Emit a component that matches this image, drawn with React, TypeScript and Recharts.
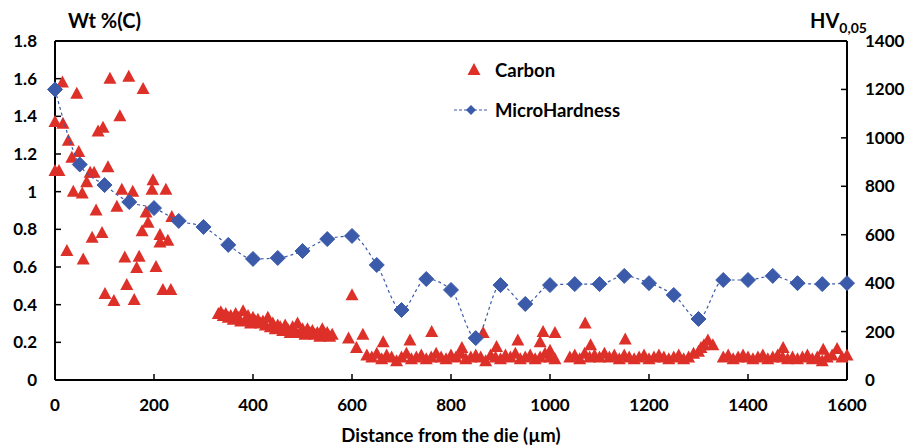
import React from 'react';
import { ScatterChart, Scatter, XAxis, YAxis, ReferenceLine } from 'recharts';

// ─── Data ─────────────────────────────────────────────────────────────────────
// carbon content (wt %) vs distance from the die (µm)
const carbonNearDie: [number, number][] = [
  [0, 1.37], [0, 1.11], [8, 1.11], [15, 1.58], [16, 1.36], [24, 0.685], [27, 1.27], [34, 1.18],
  [37, 1.0], [44, 1.52], [48, 1.21], [55, 0.99], [57, 0.64], [64, 1.05], [71, 1.1], [75, 0.755],
  [79, 1.1], [83, 0.9], [87, 1.32], [95, 0.78], [97, 1.34], [101, 0.457], [107, 1.13], [111, 1.6],
  [119, 0.42], [125, 0.92], [131, 1.4], [135, 1.01], [141, 0.65], [145, 0.505], [149, 1.61],
  [157, 1.0], [160, 0.425], [165, 0.595], [170, 0.655], [176, 0.79], [178, 1.545], [184, 0.89],
  [188, 0.835], [196, 1.01], [198, 1.06], [204, 0.6], [212, 0.77], [212, 0.73], [218, 0.478],
  [224, 1.01], [228, 0.74], [234, 0.478], [236, 0.865],
];

const carbonPlateau: [number, number][] = [
  [330, 0.35], [335, 0.36], [340, 0.34], [345, 0.35], [350, 0.33], [355, 0.34], [360, 0.32],
  [365, 0.35], [370, 0.33], [375, 0.31], [380, 0.365], [385, 0.32], [390, 0.34], [395, 0.3],
  [400, 0.33], [405, 0.31], [410, 0.32], [415, 0.3], [420, 0.31], [425, 0.29], [430, 0.33],
  [435, 0.28], [440, 0.3], [445, 0.27], [450, 0.29], [455, 0.28], [460, 0.26], [465, 0.29],
  [470, 0.27], [475, 0.25], [480, 0.28], [485, 0.26], [490, 0.3], [495, 0.25], [500, 0.27],
  [505, 0.24], [510, 0.27], [515, 0.25], [520, 0.26], [525, 0.24], [530, 0.25], [535, 0.23],
  [540, 0.27], [545, 0.24], [550, 0.25], [555, 0.23], [560, 0.24],
];

const carbonTail: [number, number][] = [
  [630, 0.13], [640, 0.12], [650, 0.14], [660, 0.11], [670, 0.13], [680, 0.12], [690, 0.1],
  [700, 0.12], [710, 0.14], [720, 0.11], [730, 0.12], [740, 0.13], [750, 0.11], [760, 0.12],
  [770, 0.14], [780, 0.12], [790, 0.11], [800, 0.13], [810, 0.12], [820, 0.14], [830, 0.11],
  [840, 0.12], [850, 0.13], [860, 0.12], [870, 0.1], [880, 0.13], [890, 0.12], [900, 0.11],
  [910, 0.13], [920, 0.12], [930, 0.14], [940, 0.11], [950, 0.12], [960, 0.13], [970, 0.11],
  [980, 0.12], [990, 0.14], [1000, 0.12], [1010, 0.11], [1040, 0.12], [1050, 0.13], [1060, 0.11],
  [1070, 0.14], [1080, 0.12], [1090, 0.13], [1100, 0.12], [1110, 0.14], [1120, 0.12], [1130, 0.13],
  [1140, 0.11], [1150, 0.13], [1160, 0.12], [1170, 0.11], [1180, 0.12], [1190, 0.13], [1200, 0.11],
  [1210, 0.12], [1220, 0.13], [1230, 0.12], [1240, 0.11], [1250, 0.12], [1260, 0.13], [1270, 0.11],
  [1280, 0.12], [1290, 0.14], [1300, 0.15], [1305, 0.17], [1350, 0.12], [1360, 0.13], [1370, 0.11],
  [1380, 0.12], [1390, 0.13], [1400, 0.12], [1410, 0.11], [1420, 0.12], [1430, 0.13], [1440, 0.11],
  [1450, 0.12], [1460, 0.13], [1470, 0.12], [1480, 0.11], [1490, 0.12], [1500, 0.11], [1510, 0.12],
  [1520, 0.13], [1530, 0.11], [1540, 0.12], [1550, 0.1], [1560, 0.12], [1570, 0.13], [1590, 0.12],
  [1600, 0.13],
];

const carbonOutliers: [number, number][] = [
  [593, 0.22], [600, 0.45], [609, 0.17], [622, 0.24], [663, 0.2], [717, 0.21], [761, 0.255],
  [822, 0.17], [865, 0.25], [892, 0.175], [935, 0.21], [980, 0.2], [986, 0.255], [1000, 0.155],
  [1010, 0.25], [1071, 0.3], [1082, 0.185], [1152, 0.215], [1311, 0.185], [1319, 0.21],
  [1329, 0.185], [1471, 0.17], [1552, 0.16], [1580, 0.165],
];

// micro hardness HV0,05
const hardnessDistance = [
  0, 50, 100, 150, 200, 250, 300, 350, 400, 450, 500, 550, 600, 650, 700, 750, 800,
  850, 900, 950, 1000, 1050, 1100, 1150, 1200, 1250, 1300, 1350, 1400, 1450, 1500, 1550, 1600,
];
const hardnessValues = [
  1200, 890, 805, 735, 710, 657, 632, 558, 500, 504, 533, 582, 595, 475, 289, 417, 372,
  173, 392, 314, 392, 396, 396, 430, 400, 351, 252, 413, 413, 430, 400, 396, 400,
];

const xTicks = [0, 200, 400, 600, 800, 1000, 1200, 1400, 1600];
const carbonTicks = [0, 0.2, 0.4, 0.6, 0.8, 1, 1.2, 1.4, 1.6, 1.8];
const hvTicks = [0, 200, 400, 600, 800, 1000, 1200, 1400];

const carbonData = [...carbonNearDie, ...carbonPlateau, ...carbonOutliers, ...carbonTail]
  .map(([x, y]) => ({ x, y }));
const hardnessData = hardnessDistance.map((x, i) => ({ x, y: hardnessValues[i] }));

const RED = '#DD3029';
const BLUE = '#3B5BAA';
const FONT = 'Lato, "Open Sans", sans-serif';
const tickStyle = { fill: '#000', fontSize: 17, fontWeight: 700, fontFamily: FONT };
const axisLine = { stroke: '#000', strokeWidth: 2 };

// ─── Markers ──────────────────────────────────────────────────────────────────
const Triangle = (p: any) => (
  <path
    d={`M${p.cx},${p.cy - 7} L${p.cx + 6.5},${p.cy + 5} L${p.cx - 6.5},${p.cy + 5} Z`}
    fill={RED}
  />
);

const Diamond = (p: any) => (
  <path
    d={`M${p.cx},${p.cy - 7.5} L${p.cx + 7.5},${p.cy} L${p.cx},${p.cy + 7.5} L${p.cx - 7.5},${p.cy} Z`}
    fill={BLUE}
    stroke={BLUE}
    strokeWidth={1}
    strokeLinejoin="round"
  />
);

// ─── Chart ────────────────────────────────────────────────────────────────────
export default function App() {
  return (
    <div style={{ position: 'absolute', left: 0, top: 0, width: 907, height: 447, background: '#fff', fontFamily: FONT }}>
      <ScatterChart width={907} height={447} margin={{ top: 41, right: 20, bottom: 27, left: 15 }}>
        <XAxis
          type="number" dataKey="x" domain={[0, 1600]} ticks={xTicks}
          tick={tickStyle} axisLine={axisLine} tickLine={{ stroke: '#000', strokeWidth: 1.5 }}
          tickSize={-6} tickMargin={25} height={40}
        />
        <YAxis
          yAxisId="left" type="number" dataKey="y" domain={[0, 1.8]} ticks={carbonTicks}
          tick={tickStyle} axisLine={axisLine} tickLine={{ stroke: '#000', strokeWidth: 1.5 }}
          tickSize={-6} tickMargin={24} width={40}
        />
        <YAxis
          yAxisId="right" orientation="right" type="number" dataKey="y" domain={[0, 1400]} ticks={hvTicks}
          tick={tickStyle} axisLine={axisLine} tickLine={{ stroke: '#000', strokeWidth: 1.5 }}
          tickSize={-6} tickMargin={24} width={40}
        />
        <ReferenceLine yAxisId="left" y={1.8} stroke="#000" strokeWidth={2} />
        <Scatter
          yAxisId="left" data={carbonData} shape={Triangle} isAnimationActive={false}
        />
        <Scatter
          yAxisId="right" data={hardnessData} shape={Diamond} isAnimationActive={false}
          line={{ stroke: BLUE, strokeWidth: 1.2, strokeDasharray: '3 3' }}
          lineJointType="monotoneX"
        />
      </ScatterChart>

      {/* Axis titles */}
      <div style={{ position: 'absolute', left: 68, top: 9, fontSize: 20, fontWeight: 700, lineHeight: '22px' }}>
        Wt %(C)
      </div>
      <div style={{ position: 'absolute', left: 810, top: 9, fontSize: 20, fontWeight: 700, lineHeight: '22px' }}>
        HV<sub style={{ fontSize: 14, verticalAlign: -5 }}>0,05</sub>
      </div>
      <div style={{ position: 'absolute', left: 55, width: 792, top: 424, textAlign: 'center', fontSize: 18.5, fontWeight: 700, lineHeight: '22px' }}>
        Distance from the die (µm)
      </div>

      {/* Legend */}
      <div style={{ position: 'absolute', left: 452, top: 57, fontSize: 18.5, fontWeight: 700, lineHeight: '22px' }}>
        <div style={{ display: 'flex', alignItems: 'center', height: 26 }}>
          <svg width={38} height={20}>
            <path d="M22,3 L28.5,15 L15.5,15 Z" fill={RED} />
          </svg>
          <span style={{ marginLeft: 5 }}>Carbon</span>
        </div>
        <div style={{ display: 'flex', alignItems: 'center', height: 26, marginTop: 14 }}>
          <svg width={38} height={20}>
            <line x1={2} y1={10} x2={35} y2={10} stroke={BLUE} strokeWidth={1.2} strokeDasharray="3 2" />
            <path d="M19,5 L24,10 L19,15 L14,10 Z" fill={BLUE} />
          </svg>
          <span style={{ marginLeft: 5 }}>MicroHardness</span>
        </div>
      </div>
    </div>
  );
}
